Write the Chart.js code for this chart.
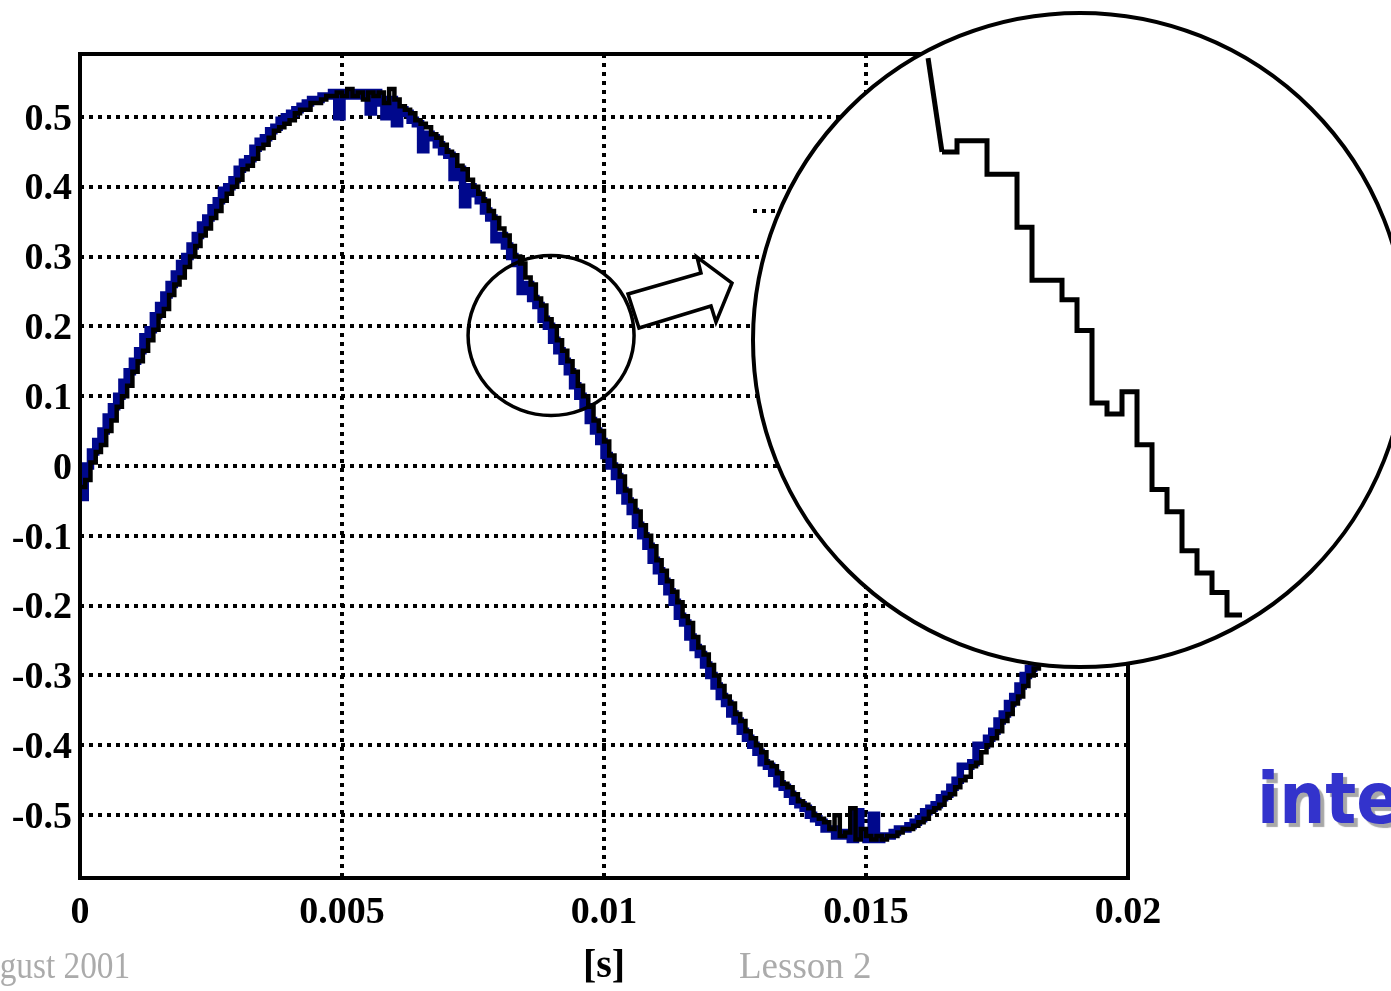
<!DOCTYPE html>
<html>
<head>
<meta charset="utf-8">
<script src="https://cdn.jsdelivr.net/npm/chart.js@4.4.1/dist/chart.umd.min.js"></script>
<style>
  body { margin: 0; background: #fff; overflow: hidden; }
  #wrap { position: relative; width: 1391px; height: 991px; overflow: hidden; }
  #main { position: absolute; left: 0; top: 0; }
  #inset { position: absolute; left: 752px; top: 12px; }
  .note { position: absolute; font-family: "Liberation Serif", serif; font-size: 37px; line-height: 37px;
          color: #ababab; white-space: nowrap; transform-origin: left top; }
  .big { position: absolute; font-family: "DejaVu Sans Condensed", "DejaVu Sans", sans-serif; font-weight: bold;
         font-size: 72px; line-height: 72px; color: #3333cc; white-space: nowrap; text-shadow: 4px 4px 1px #a8a8a8; }
</style>
</head>
<body>
<div id="wrap">
  <canvas id="main" width="1391" height="991"></canvas>
  <canvas id="inset" width="639" height="657"></canvas>
  <div class="note" style="left:-41px; top:947px; transform:scaleX(0.9);">August 2001</div>
  <div class="note" style="left:739px; top:947px;">Lesson 2</div>
  <div class="big" style="left:1257px; top:762px;">inte</div>
</div>
<script>
// sample spacing of the recorded signal [s]
const sampleStep = 0.0001;

// quantised signal (black staircase)
const quantised = [
  -0.03, -0.02, 0.005, 0.02, 0.03, 0.05, 0.065, 0.085, 0.10, 0.115,
  0.135, 0.15, 0.165, 0.18, 0.195, 0.215, 0.225, 0.245, 0.26, 0.27,
  0.285, 0.30, 0.315, 0.33, 0.34, 0.355, 0.365, 0.38, 0.39, 0.40,
  0.41, 0.425, 0.43, 0.44, 0.455, 0.46, 0.47, 0.48, 0.485, 0.49,
  0.495, 0.505, 0.51, 0.51, 0.52, 0.52, 0.525, 0.53, 0.53, 0.535,
  0.53, 0.54, 0.53, 0.535, 0.525, 0.535, 0.53, 0.535, 0.52, 0.54,
  0.525, 0.515, 0.51, 0.505, 0.495, 0.49, 0.485, 0.475, 0.47, 0.46,
  0.45, 0.445, 0.43, 0.425, 0.41, 0.40, 0.39, 0.38, 0.365, 0.355,
  0.34, 0.33, 0.315, 0.30, 0.29, 0.27, 0.26, 0.24, 0.23, 0.21,
  0.20, 0.18, 0.165, 0.15, 0.135, 0.115, 0.10, 0.085, 0.065, 0.05,
  0.035, 0.015, 0.00, -0.015, -0.035, -0.05, -0.065, -0.085, -0.10, -0.115,
  -0.135, -0.15, -0.165, -0.18, -0.195, -0.215, -0.225, -0.245, -0.26, -0.27,
  -0.285, -0.30, -0.315, -0.33, -0.34, -0.355, -0.365, -0.38, -0.39, -0.40,
  -0.41, -0.425, -0.43, -0.44, -0.455, -0.46, -0.47, -0.48, -0.485, -0.49,
  -0.50, -0.505, -0.51, -0.52, -0.50, -0.53, -0.525, -0.49, -0.535, -0.52,
  -0.53, -0.535, -0.53, -0.535, -0.53, -0.53, -0.525, -0.52, -0.52, -0.515,
  -0.51, -0.505, -0.495, -0.49, -0.485, -0.475, -0.47, -0.46, -0.45, -0.445,
  -0.43, -0.425, -0.41, -0.40, -0.39, -0.38, -0.365, -0.355, -0.34, -0.33,
  -0.315, -0.30, -0.29, -0.27, -0.26, -0.24, -0.23, -0.21, -0.20, -0.18,
  -0.165, -0.15, -0.135, -0.115, -0.10, -0.085, -0.065, -0.05, -0.035, -0.015,
  0.00
];

// noisy measured signal (blue)
const measured = [
  -0.045, 0.00, 0.02, 0.035, 0.05, 0.07, 0.085, 0.10, 0.12, 0.135,
  0.15, 0.165, 0.185, 0.195, 0.215, 0.23, 0.245, 0.26, 0.275, 0.29,
  0.30, 0.315, 0.33, 0.345, 0.355, 0.37, 0.38, 0.395, 0.40, 0.41,
  0.425, 0.435, 0.44, 0.455, 0.465, 0.47, 0.48, 0.485, 0.495, 0.50,
  0.505, 0.51, 0.515, 0.52, 0.525, 0.525, 0.53, 0.53, 0.535, 0.50,
  0.535, 0.53, 0.53, 0.535, 0.535, 0.507, 0.535, 0.52, 0.50, 0.525,
  0.49, 0.51, 0.505, 0.495, 0.49, 0.453, 0.475, 0.47, 0.46, 0.45,
  0.445, 0.413, 0.425, 0.374, 0.40, 0.39, 0.38, 0.365, 0.355, 0.324,
  0.33, 0.315, 0.30, 0.29, 0.25, 0.26, 0.24, 0.23, 0.21, 0.20,
  0.18, 0.165, 0.15, 0.135, 0.115, 0.10, 0.085, 0.065, 0.05, 0.035,
  0.015, 0.00, -0.015, -0.035, -0.05, -0.065, -0.085, -0.10, -0.115, -0.135,
  -0.15, -0.165, -0.18, -0.195, -0.215, -0.225, -0.245, -0.26, -0.27, -0.285,
  -0.30, -0.315, -0.33, -0.34, -0.355, -0.365, -0.38, -0.39, -0.40, -0.41,
  -0.425, -0.43, -0.44, -0.455, -0.46, -0.47, -0.48, -0.485, -0.49, -0.50,
  -0.505, -0.51, -0.52, -0.52, -0.53, -0.525, -0.53, -0.535, -0.495, -0.53,
  -0.535, -0.50, -0.535, -0.53, -0.53, -0.525, -0.52, -0.52, -0.515, -0.51,
  -0.505, -0.495, -0.49, -0.485, -0.475, -0.47, -0.46, -0.45, -0.43, -0.43,
  -0.425, -0.40, -0.40, -0.39, -0.38, -0.365, -0.355, -0.34, -0.33, -0.315,
  -0.30, -0.29, -0.27, -0.26, -0.24, -0.23, -0.21, -0.20, -0.18, -0.165,
  -0.15, -0.135, -0.115, -0.10, -0.085, -0.065, -0.05, -0.035, -0.015, 0.00,
  0.015
];

const xTicks = [0, 0.005, 0.01, 0.015, 0.02];
const yTicks = [-0.5, -0.4, -0.3, -0.2, -0.1, 0, 0.1, 0.2, 0.3, 0.4, 0.5];

// magnified detail (sample index, level)
const zoomSamples = [0, 1, 2, 3, 4, 5, 6, 7, 8, 9, 10, 11, 12, 13, 14, 15, 16, 17, 18, 19, 20];
const zoomLevels = [0.255, 0.259, 0.259, 0.247, 0.247, 0.228, 0.209, 0.209, 0.202, 0.191,
                    0.165, 0.161, 0.169, 0.150, 0.134, 0.126, 0.112, 0.104, 0.097, 0.089, 0.089];
const zoomLeadX = [-0.93, 0];
const zoomLeadY = [0.2887, 0.255];

function fmt(v) {
    return String(Math.round(v * 1000) / 1000);
}

const tickFont = { family: 'Liberation Serif', size: 38, weight: 'bold' };

// frame, magnifier circles and arrow
const decor = {
    id: 'decor',
    afterDatasetsDraw(chart) {
        const a = chart.chartArea;
        const ctx = chart.ctx;
        ctx.save();
        ctx.strokeStyle = '#000';
        ctx.lineWidth = 4;
        ctx.strokeRect(a.left, a.top, a.right - a.left, a.bottom - a.top);
        ctx.restore();
    },
    afterDraw(chart) {
        const ctx = chart.ctx;
        const xs = chart.scales.x, ys = chart.scales.y;
        ctx.save();
        // small circle round the detail
        ctx.lineWidth = 3.5;
        ctx.strokeStyle = '#000';
        ctx.beginPath();
        ctx.ellipse(xs.getPixelForValue(0.00899), ys.getPixelForValue(0.187), 83, 80, 0, 0, Math.PI * 2);
        ctx.stroke();
        // arrow
        ctx.beginPath();
        ctx.moveTo(628, 294);
        ctx.lineTo(701, 273);
        ctx.lineTo(697, 257);
        ctx.lineTo(732, 283);
        ctx.lineTo(716, 322);
        ctx.lineTo(711, 306);
        ctx.lineTo(639, 328);
        ctx.closePath();
        ctx.fillStyle = '#fff';
        ctx.fill();
        ctx.lineJoin = 'miter';
        ctx.stroke();
        // big magnifier
        ctx.beginPath();
        ctx.arc(1080, 340, 327, 0, Math.PI * 2);
        ctx.fillStyle = '#fff';
        ctx.fill();
        ctx.lineWidth = 4;
        ctx.stroke();
        // left-over dotted fragment
        ctx.setLineDash([4, 5]);
        ctx.lineWidth = 4;
        ctx.beginPath();
        ctx.moveTo(753, 211);
        ctx.lineTo(779, 211);
        ctx.stroke();
        ctx.restore();
    }
};

new Chart(document.getElementById('main'), {
    type: 'line',
    data: {
        datasets: [{
            label: 'quantised',
            data: quantised.map((v, i) => ({ x: i * sampleStep, y: v })),
            stepped: 'before',
            borderColor: '#000',
            borderWidth: 4.5,
            pointRadius: 0,
            order: 1
        }, {
            label: 'measured',
            data: measured.map((v, i) => ({ x: i * sampleStep, y: v })),
            stepped: 'before',
            borderColor: '#00088c',
            borderWidth: 7.5,
            pointRadius: 0,
            order: 2
        }]
    },
    options: {
        responsive: false,
        animation: false,
        events: [],
        layout: { padding: { top: 54, right: 263, left: 0, bottom: 0 } },
        plugins: { legend: { display: false }, tooltip: { enabled: false } },
        scales: {
            x: {
                type: 'linear',
                min: 0,
                max: 0.02,
                afterBuildTicks: s => { s.ticks = xTicks.map(v => ({ value: v })); },
                afterFit: s => { s.height = 113; },
                grid: { color: '#000', lineWidth: 4, drawTicks: false },
                border: { display: false, dash: [4, 5] },
                ticks: { padding: 12, color: '#000', font: tickFont, maxRotation: 0, autoSkip: false, callback: v => fmt(v) },
                title: { display: true, text: '[s]', color: '#000', padding: { top: 0, bottom: 0 },
                         font: { family: 'Liberation Serif', size: 40, weight: 'bold' } }
            },
            y: {
                type: 'linear',
                min: -0.59,
                max: 0.59,
                afterBuildTicks: s => { s.ticks = yTicks.map(v => ({ value: v })); },
                afterFit: s => { s.width = 80; },
                grid: { color: '#000', lineWidth: 4, drawTicks: false },
                border: { display: false, dash: [4, 5] },
                ticks: { padding: 8, labelOffset: 3, color: '#000', font: tickFont, autoSkip: false, callback: v => fmt(v) }
            }
        }
    },
    plugins: [decor]
});

// magnified view inside the big circle
new Chart(document.getElementById('inset'), {
    type: 'line',
    data: {
        datasets: [{
            data: zoomLeadX.map((x, i) => ({ x: x, y: zoomLeadY[i] })),
            borderColor: '#000',
            borderWidth: 5,
            pointRadius: 0
        }, {
            data: zoomSamples.map((x, i) => ({ x: x, y: zoomLevels[i] })),
            stepped: 'before',
            borderColor: '#000',
            borderWidth: 5,
            pointRadius: 0
        }]
    },
    options: {
        responsive: false,
        animation: false,
        events: [],
        layout: { padding: 0 },
        plugins: { legend: { display: false }, tooltip: { enabled: false } },
        scales: {
            x: { type: 'linear', display: false, min: -12.667, max: 29.933 },
            y: { type: 'linear', display: false, min: 0.0696, max: 0.3052 }
        }
    }
});
</script>
</body>
</html>
